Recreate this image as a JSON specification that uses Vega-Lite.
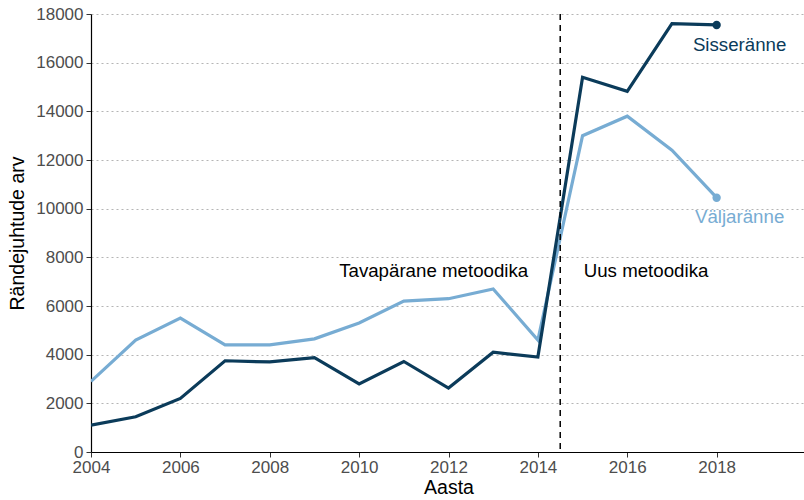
{
  "$schema": "https://vega.github.io/schema/vega-lite/v6.json",
  "width": 715,
  "height": 438,
  "autosize": {"type": "none"},
  "padding": {"left": 91, "top": 14, "right": 0, "bottom": 48},
  "background": "white",
  "config": {
    "font": "Liberation Sans",
    "view": {"stroke": null},
    "axis": {
      "labelFont": "Liberation Sans",
      "titleFont": "Liberation Sans",
      "labelFontSize": 17,
      "titleFontSize": 19.5,
      "labelColor": "#4d4d4d",
      "titleColor": "#000000",
      "titleFontWeight": "normal",
      "domainColor": "#000000",
      "domainWidth": 1.2,
      "tickColor": "#333333",
      "tickSize": 5
    }
  },
  "datasets": {
    "series": [
      {"aasta": 2004, "suund": "Väljaränne", "arv": 2900},
      {"aasta": 2005, "suund": "Väljaränne", "arv": 4600},
      {"aasta": 2006, "suund": "Väljaränne", "arv": 5500},
      {"aasta": 2007, "suund": "Väljaränne", "arv": 4400},
      {"aasta": 2008, "suund": "Väljaränne", "arv": 4400},
      {"aasta": 2009, "suund": "Väljaränne", "arv": 4650},
      {"aasta": 2010, "suund": "Väljaränne", "arv": 5300},
      {"aasta": 2011, "suund": "Väljaränne", "arv": 6200},
      {"aasta": 2012, "suund": "Väljaränne", "arv": 6300},
      {"aasta": 2013, "suund": "Väljaränne", "arv": 6700},
      {"aasta": 2014, "suund": "Väljaränne", "arv": 4600},
      {"aasta": 2015, "suund": "Väljaränne", "arv": 13000},
      {"aasta": 2016, "suund": "Väljaränne", "arv": 13800},
      {"aasta": 2017, "suund": "Väljaränne", "arv": 12400},
      {"aasta": 2018, "suund": "Väljaränne", "arv": 10450},
      {"aasta": 2004, "suund": "Sisseränne", "arv": 1100},
      {"aasta": 2005, "suund": "Sisseränne", "arv": 1450},
      {"aasta": 2006, "suund": "Sisseränne", "arv": 2200},
      {"aasta": 2007, "suund": "Sisseränne", "arv": 3750},
      {"aasta": 2008, "suund": "Sisseränne", "arv": 3700},
      {"aasta": 2009, "suund": "Sisseränne", "arv": 3880},
      {"aasta": 2010, "suund": "Sisseränne", "arv": 2800},
      {"aasta": 2011, "suund": "Sisseränne", "arv": 3720},
      {"aasta": 2012, "suund": "Sisseränne", "arv": 2630},
      {"aasta": 2013, "suund": "Sisseränne", "arv": 4100},
      {"aasta": 2014, "suund": "Sisseränne", "arv": 3900},
      {"aasta": 2015, "suund": "Sisseränne", "arv": 15400},
      {"aasta": 2016, "suund": "Sisseränne", "arv": 14820},
      {"aasta": 2017, "suund": "Sisseränne", "arv": 17600},
      {"aasta": 2018, "suund": "Sisseränne", "arv": 17550}
    ],
    "labels": [
      {"aasta": 2018, "suund": "Sisseränne", "arv": 16490},
      {"aasta": 2018, "suund": "Väljaränne", "arv": 9420}
    ],
    "methods": [
      {"nimi": "Tavapärane metoodika", "poolus": "vasak"},
      {"nimi": "Uus metoodika", "poolus": "parem"}
    ]
  },
  "layer": [
    {
      "data": {"name": "series"},
      "mark": {"type": "line", "strokeWidth": 3.2, "clip": true},
      "encoding": {
        "x": {
          "field": "aasta", "type": "quantitative",
          "scale": {"domain": [2004, 2020], "nice": false, "zero": false},
          "axis": {"title": "Aasta", "values": [2004, 2006, 2008, 2010, 2012, 2014, 2016, 2018], "format": "d", "grid": false, "labelFlush": false, "titlePadding": 3, "labelPadding": 2}
        },
        "y": {
          "field": "arv", "type": "quantitative",
          "scale": {"domain": [0, 18000], "nice": false},
          "axis": {"title": "Rändejuhtude arv", "values": [0, 2000, 4000, 6000, 8000, 10000, 12000, 14000, 16000, 18000], "format": "d", "grid": true, "gridColor": "#b5b5b5", "gridDash": [2, 3], "gridWidth": 1, "titlePadding": 8, "labelPadding": 3}
        },
        "color": {
          "field": "suund", "type": "nominal",
          "scale": {"domain": ["Sisseränne", "Väljaränne"], "range": ["#0b3b5a", "#77acd3"]},
          "legend": null
        },
        "detail": {"field": "suund"}
      }
    },
    {
      "data": {"name": "series"},
      "transform": [{"filter": "datum.aasta == 2018"}],
      "mark": {"type": "point", "filled": true, "size": 70, "opacity": 1},
      "encoding": {
        "x": {"field": "aasta", "type": "quantitative"},
        "y": {"field": "arv", "type": "quantitative"},
        "color": {"field": "suund", "type": "nominal", "legend": null}
      }
    },
    {
      "data": {"name": "labels"},
      "mark": {"type": "text", "fontSize": 18.7, "align": "center", "baseline": "alphabetic", "dx": 23, "font": "Liberation Sans"},
      "encoding": {
        "x": {"field": "aasta", "type": "quantitative"},
        "y": {"field": "arv", "type": "quantitative"},
        "text": {"field": "suund"},
        "color": {"field": "suund", "type": "nominal", "legend": null}
      }
    },
    {
      "data": {"values": [{"piir": 2014.5}]},
      "mark": {"type": "rule", "strokeDash": [6, 5], "color": "#000000", "strokeWidth": 1.5},
      "encoding": {"x": {"field": "piir", "type": "quantitative"}}
    },
    {
      "data": {"name": "methods"},
      "transform": [{"filter": "datum.poolus == 'vasak'"}],
      "mark": {"type": "text", "fontSize": 18.7, "align": "right", "baseline": "alphabetic", "dx": -32, "color": "#000000"},
      "encoding": {"x": {"datum": 2014.5}, "y": {"datum": 7200}, "text": {"field": "nimi"}}
    },
    {
      "data": {"name": "methods"},
      "transform": [{"filter": "datum.poolus == 'parem'"}],
      "mark": {"type": "text", "fontSize": 18.7, "align": "left", "baseline": "alphabetic", "dx": 23.5, "color": "#000000"},
      "encoding": {"x": {"datum": 2014.5}, "y": {"datum": 7200}, "text": {"field": "nimi"}}
    }
  ]
}
